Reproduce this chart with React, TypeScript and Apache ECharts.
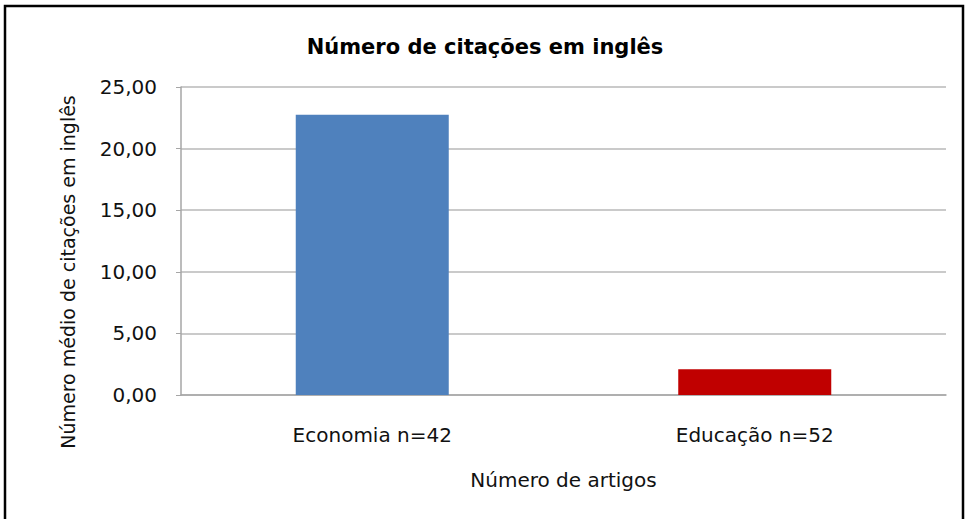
import React, { useEffect, useRef } from "react";
import * as echarts from "echarts";

const categories = ["Economia n=42", "Educação n=52"];
const values = [22.75, 2.1];
const barColors = ["#4f81bd", "#c00000"];
const yTicks = { min: 0, max: 25, interval: 5 };
const titleText = "Número de citações em inglês";
const xName = "Número de artigos";
const yName = "Número médio de citações em inglês";

const FONT = "DejaVu Sans";

export default function App() {
  const ref = useRef<HTMLDivElement>(null);
  useEffect(() => {
    if (!ref.current) return;
    const chart = echarts.init(ref.current, null, { renderer: "svg" });
    chart.setOption({
      animation: false,
      backgroundColor: "#ffffff",
      textStyle: { fontFamily: FONT },
      title: {
        text: titleText,
        left: "center",
        top: 31,
        textStyle: { fontFamily: FONT, fontSize: 21, fontWeight: "bold", color: "#000" },
      },
      grid: { left: 181, right: 24, top: 87, bottom: 124 },
      xAxis: {
        type: "category",
        data: categories,
        name: xName,
        nameLocation: "middle",
        nameGap: 75,
        nameTextStyle: { fontFamily: FONT, fontSize: 20, color: "#111" },
        axisLine: { lineStyle: { color: "#a6a6a6", width: 1.5 } },
        axisTick: { show: false },
        axisLabel: { margin: 30, fontFamily: FONT, fontSize: 20, color: "#111" },
        splitLine: { show: false },
      },
      yAxis: {
        type: "value",
        min: yTicks.min,
        max: yTicks.max,
        interval: yTicks.interval,
        name: yName,
        nameLocation: "middle",
        nameGap: 104,
        nameRotate: 90,
        nameTextStyle: { fontFamily: FONT, fontSize: 19, color: "#111", padding: [0, 62, 0, 0] },
        axisLine: { show: true, lineStyle: { color: "#a6a6a6", width: 1.5 } },
        axisTick: { show: true, length: 5, inside: false, lineStyle: { color: "#a6a6a6" } },
        axisLabel: {
          margin: 24,
          fontFamily: FONT,
          fontSize: 20,
          color: "#111",
          formatter: (v: number) => v.toFixed(2).replace(".", ","),
        },
        splitLine: { show: true, lineStyle: { color: "#b8b8b8", width: 1.5 } },
      },
      series: [
        {
          type: "bar",
          data: values.map((v, i) => ({ value: v, itemStyle: { color: barColors[i] } })),
          barWidth: "40%",
        },
      ],
      graphic: [
        {
          type: "rect",
          shape: { x: 5, y: 6, width: 958, height: 530 },
          style: { fill: "none", stroke: "#000", lineWidth: 2.5 },
          z: 100,
        },
      ],
    });
    return () => chart.dispose();
  }, []);
  return (
    <div
      ref={ref}
      style={{ position: "absolute", left: 0, top: 0, width: 970, height: 519 }}
    />
  );
}
